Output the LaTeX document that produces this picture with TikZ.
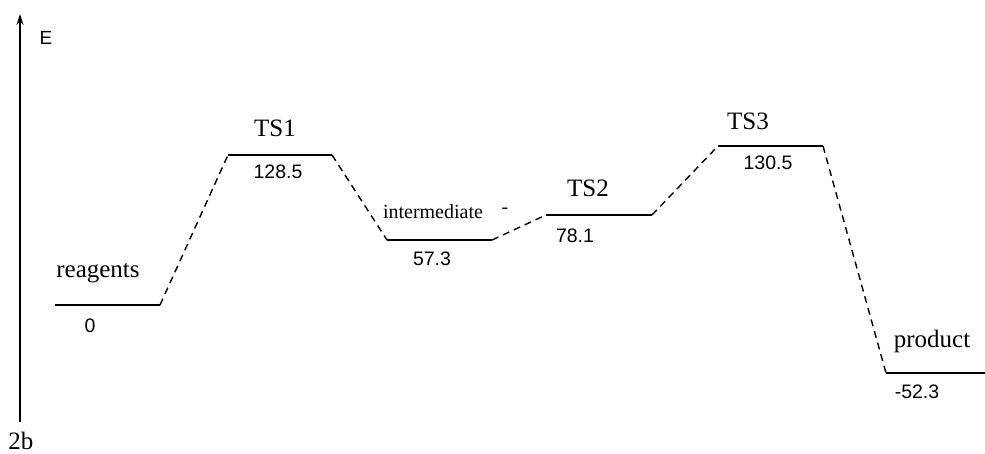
\documentclass[tikz,border=0pt]{standalone}
\usepackage{fontspec}
\setmainfont{Liberation Serif}
\newfontfamily\numfont{Liberation Sans}
\usetikzlibrary{arrows.meta}
\tikzset{
  lvl/.style={line width=1.6pt},
  conn/.style={line width=1.4pt, dash pattern=on 7pt off 5pt},
  lab/.style={font=\fontsize{25}{27}\selectfont, inner sep=0pt},
  smlab/.style={font=\fontsize{20}{22}\selectfont, inner sep=0pt},
  val/.style={font=\numfont\fontsize{19.5}{22}\selectfont, inner sep=0pt}
}
\begin{document}
\begin{tikzpicture}[x=1pt,y=-1pt]
\useasboundingbox (0,0) rectangle (985,454);
% axis
\coordinate (ax0) at (20,422);
\coordinate (ax1) at (20,14);
\draw[line width=1.4pt,-{Stealth[length=11pt,width=7pt]}] (ax0) -- (ax1);
\node[font=\numfont\fontsize{19}{21}\selectfont, inner sep=0pt] (E) at (46,38) {E};
\node[lab] (fig) at (21,441) {2b};
% levels
\coordinate (r0) at (55,305); \coordinate (r1) at (160,305);
\coordinate (t10) at (228,155); \coordinate (t11) at (332,155);
\coordinate (i0) at (387,240); \coordinate (i1) at (492,240);
\coordinate (t20) at (546,215); \coordinate (t21) at (652,215);
\coordinate (t30) at (718,146); \coordinate (t31) at (823,146);
\coordinate (p0) at (886,373); \coordinate (p1) at (985,373);
\draw[lvl] (r0) -- (r1);
\draw[lvl] (t10) -- (t11);
\draw[lvl] (i0) -- (i1);
\draw[lvl] (t20) -- (t21);
\draw[lvl] (t30) -- (t31);
\draw[lvl] (p0) -- (p1);
% connectors
\draw[conn] (r1) -- (t10);
\draw[conn] (t11) -- (i0);
\draw[conn] (i1) -- (t20);
\draw[conn] (t21) -- (t30);
\draw[conn] (t31) -- (p0);
% labels
\node[lab] (lr) at (98,273) {reagents};
\node[val] (vr) at (90,326) {0};
\node[lab] (lt1) at (275,128) {TS1};
\node[val] (vt1) at (278,172) {128.5};
\node[smlab] (li) at (433,212) {intermediate};
\node[smlab] (ld) at (505,211) {-};
\node[val] (vi) at (432,259) {57.3};
\node[lab] (lt2) at (588,188) {TS2};
\node[val] (vt2) at (575,236) {78.1};
\node[lab] (lt3) at (748,121) {TS3};
\node[val] (vt3) at (768,163) {130.5};
\node[lab] (lp) at (932,341) {product};
\node[val] (vp) at (917,392) {-52.3};
\end{tikzpicture}
\end{document}
